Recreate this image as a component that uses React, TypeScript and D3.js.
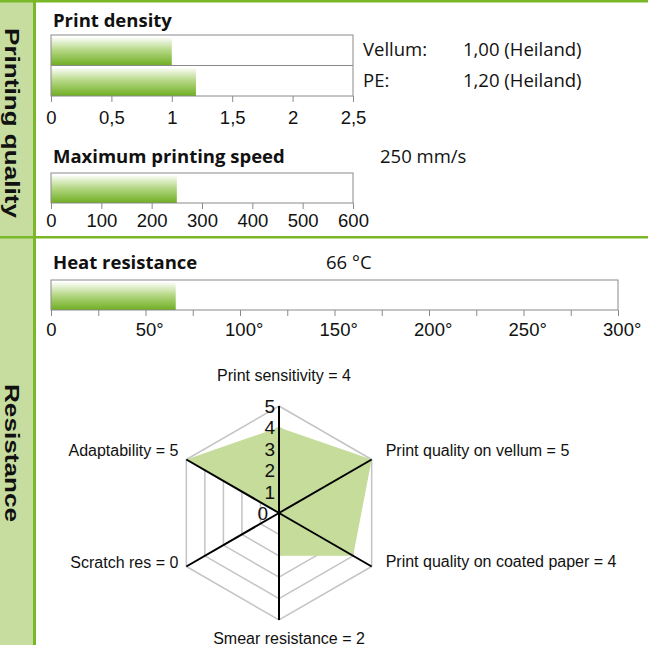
import React, { useEffect, useRef } from "react";
import * as d3 from "d3";

// print density
const densityNames = ["Vellum:", "PE:"];
const densityValues = [1.0, 1.2];
const densityNotes = ["1,00 (Heiland)", "1,20 (Heiland)"];
const densityTicks = [0, 0.5, 1, 1.5, 2, 2.5];

// max printing speed
const speedNames = ["speed"];
const speedValues = [250];
const speedNote = "250 mm/s";
const speedTicks = [0, 100, 200, 300, 400, 500, 600];

// heat resistance
const heatNames = ["heat"];
const heatValues = [66];
const heatNote = "66 °C";
const heatTicks = [0, 25, 50, 75, 100, 125, 150, 175, 200, 225, 250, 275, 300];
const heatLabelTicks = [0, 50, 100, 150, 200, 250, 300];

// radar
const radarAxes = [
  "Print sensitivity",
  "Print quality on vellum",
  "Print quality on coated paper",
  "Smear resistance",
  "Scratch res",
  "Adaptability",
];
const radarValues = [4, 5, 4, 2, 0, 5];
const radarLevels = [0, 1, 2, 3, 4, 5];

const W = 648;
const H = 645;
const GREEN = "#7ab829";
const SIDE = "#c7dd9f";
const GRAY = "#8a8a8a";
const SANS = "'Open Sans', 'Noto Sans', sans-serif";
const ARIAL = "'Liberation Sans', Arial, sans-serif";

const App = () => {
  const ref: any = useRef(null);

  useEffect(() => {
    const svg = d3.select(ref.current);
    svg.selectAll("*").remove();

    const defs = svg.append("defs");
    const grad = defs
      .append("linearGradient")
      .attr("id", "barGrad")
      .attr("x1", 0)
      .attr("y1", 0)
      .attr("x2", 0)
      .attr("y2", 1);
    grad.append("stop").attr("offset", "0%").attr("stop-color", "#fbfdf7");
    grad.append("stop").attr("offset", "45%").attr("stop-color", "#b6d886");
    grad.append("stop").attr("offset", "100%").attr("stop-color", "#6fae22");

    // frame: sidebar + green rules
    svg.append("rect").attr("x", 0).attr("y", 0).attr("width", W).attr("height", H).attr("fill", "#fff");
    svg.append("rect").attr("x", 0).attr("y", 0).attr("width", 33).attr("height", H).attr("fill", SIDE);
    svg.append("rect").attr("x", 33).attr("y", 0).attr("width", 3).attr("height", H).attr("fill", GREEN);
    svg.append("rect").attr("x", 0).attr("y", 0).attr("width", W).attr("height", 2.5).attr("fill", GREEN);
    svg.append("rect").attr("x", 0).attr("y", 236).attr("width", W).attr("height", 2.5).attr("fill", GREEN);

    // sidebar titles (reading downwards)
    const side = (label: string, cy: number, len: number) =>
      svg
        .append("text")
        .attr("transform", `translate(5,${cy}) rotate(90)`)
        .attr("text-anchor", "middle")
        .attr("font-family", ARIAL)
        .attr("font-weight", "bold")
        .attr("font-size", 21)
        .attr("textLength", len)
        .attr("lengthAdjust", "spacingAndGlyphs")
        .attr("fill", "#111")
        .text(label);
    side("Printing quality", 123, 190);
    side("Resistance", 453, 138);

    const title = (label: string, x: number, y: number) =>
      svg
        .append("text")
        .attr("x", x)
        .attr("y", y)
        .attr("font-family", SANS)
        .attr("font-weight", "bold")
        .attr("font-size", 18.5)
        .attr("fill", "#111")
        .text(label);

    const note = (label: string, x: number, y: number) =>
      svg
        .append("text")
        .attr("x", x)
        .attr("y", y)
        .attr("font-family", SANS)
        .attr("font-size", 18.5)
        .attr("fill", "#111")
        .text(label);

    const panel = (o: any) => {
      const x = d3.scaleLinear().domain([0, o.max]).range([51, o.right]);
      const y = d3.scaleBand().domain(o.names).range([o.top, o.bottom]);
      const g = svg.append("g");

      g.selectAll("rect.bar")
        .data(o.values)
        .join("rect")
        .attr("class", "bar")
        .attr("x", x(0))
        .attr("y", (d: any, i: number) => (y(o.names[i]) || 0) + 2.5)
        .attr("width", (d: any) => x(d) - x(0))
        .attr("height", y.bandwidth() - 2.5)
        .attr("fill", "url(#barGrad)");

      g.append("rect")
        .attr("x", x(0))
        .attr("y", o.top)
        .attr("width", x(o.max) - x(0))
        .attr("height", o.bottom - o.top)
        .attr("fill", "none")
        .attr("stroke", GRAY)
        .attr("stroke-width", 1);

      // row dividers
      g.selectAll("line.div")
        .data(o.names.slice(1))
        .join("line")
        .attr("class", "div")
        .attr("x1", x(0))
        .attr("x2", x(o.max))
        .attr("y1", (d: any) => y(d) || 0)
        .attr("y2", (d: any) => y(d) || 0)
        .attr("stroke", GRAY)
        .attr("stroke-width", 1);

      const axis = d3
        .axisBottom(x)
        .tickValues(o.ticks)
        .tickSize(6)
        .tickFormat((d: any) => (o.labelTicks.includes(d) ? o.format(d) : ""));
      const ag = g.append("g").attr("transform", `translate(0,${o.bottom})`).call(axis);
      ag.select(".domain").remove();
      ag.selectAll(".tick line").attr("stroke", GRAY);
      ag.selectAll(".tick text")
        .attr("dy", null)
        .attr("y", o.labelY)
        .attr("font-family", ARIAL)
        .attr("font-size", 18.5)
        .attr("fill", "#111");

      // unit suffix hangs right of the centred number
      if (o.suffix) {
        ag.selectAll(".tick").each(function (this: any, d: any) {
          if (!o.labelTicks.includes(d) || d === 0) return;
          const t = d3.select(this).select("text");
          const len = (t.node() as any).getComputedTextLength();
          d3.select(this)
            .append("text")
            .attr("x", len / 2)
            .attr("y", o.labelY)
            .attr("font-family", ARIAL)
            .attr("font-size", 18.5)
            .attr("fill", "#111")
            .attr("text-anchor", "start")
            .text(o.suffix);
        });
      }
      return y;
    };

    // Print density
    title("Print density", 53, 27);
    const dy = panel({
      names: densityNames,
      values: densityValues,
      max: 2.5,
      right: 353,
      top: 35,
      bottom: 96,
      ticks: densityTicks,
      labelTicks: densityTicks,
      format: (d: number) => String(d).replace(".", ","),
      labelY: 28,
    });
    densityNames.forEach((n, i) => {
      const yy = (dy(n) || 0) + dy.bandwidth() / 2 + 6;
      note(n, 363, yy);
      note(densityNotes[i], 463, yy);
    });

    // Max printing speed
    title("Maximum printing speed", 53, 163);
    note(speedNote, 380, 163);
    panel({
      names: speedNames,
      values: speedValues,
      max: 600,
      right: 353,
      top: 173,
      bottom: 203,
      ticks: speedTicks,
      labelTicks: speedTicks,
      format: (d: number) => String(d),
      labelY: 24,
    });

    // Heat resistance
    title("Heat resistance", 53, 269);
    note(heatNote, 326, 269);
    panel({
      names: heatNames,
      values: heatValues,
      max: 300,
      right: 618,
      top: 280,
      bottom: 310,
      ticks: heatTicks,
      labelTicks: heatLabelTicks,
      format: (d: number) => String(d),
      suffix: "°",
      labelY: 26,
    });

    // Radar
    const cx = 279;
    const cy = 513;
    const r = d3.scaleLinear().domain([0, 5]).range([0, 107]);
    const n = radarAxes.length;
    const pt = (v: number, i: number): [number, number] => {
      const a = (i * 2 * Math.PI) / n;
      return [cx + r(v) * Math.sin(a), cy - r(v) * Math.cos(a)];
    };
    const closed = d3.line().curve(d3.curveLinearClosed);
    const rg = svg.append("g");

    rg.selectAll("path.ring")
      .data(radarLevels.slice(1))
      .join("path")
      .attr("class", "ring")
      .attr("d", (lv: number) => closed(radarAxes.map((_, i) => pt(lv, i))))
      .attr("fill", "none")
      .attr("stroke", "#c4c4c4")
      .attr("stroke-width", 1.5);

    rg.append("path")
      .attr("d", closed(radarValues.map((v, i) => pt(v, i))))
      .attr("fill", "#c5dc9b");

    rg.selectAll("line.axis")
      .data(radarAxes)
      .join("line")
      .attr("class", "axis")
      .attr("x1", cx)
      .attr("y1", cy)
      .attr("x2", (d: any, i: number) => pt(5, i)[0])
      .attr("y2", (d: any, i: number) => pt(5, i)[1])
      .attr("stroke", "#000")
      .attr("stroke-width", 2);

    rg.selectAll("text.lvl")
      .data(radarLevels)
      .join("text")
      .attr("class", "lvl")
      .attr("x", (d: number) => (d === 0 ? cx - 11 : cx - 4))
      .attr("y", (d: number) => cy - r(d) + 7)
      .attr("text-anchor", "end")
      .attr("font-family", ARIAL)
      .attr("font-size", 19)
      .attr("fill", "#111")
      .text((d: number) => d);

    const labelPos = [
      { anchor: "middle", dx: 5, dy: -31 },
      { anchor: "start", dx: 14, dy: -9 },
      { anchor: "start", dx: 14, dy: -5 },
      { anchor: "middle", dx: 10, dy: 18 },
      { anchor: "end", dx: -8, dy: -4 },
      { anchor: "end", dx: -8, dy: -9 },
    ];
    rg.selectAll("text.lab")
      .data(radarAxes)
      .join("text")
      .attr("class", "lab")
      .attr("x", (d: any, i: number) => pt(5, i)[0] + labelPos[i].dx)
      .attr("y", (d: any, i: number) => pt(5, i)[1] + labelPos[i].dy + 5.5)
      .attr("text-anchor", (d: any, i: number) => labelPos[i].anchor)
      .attr("font-family", ARIAL)
      .attr("font-size", 16)
      .attr("fill", "#111")
      .text((d: any, i: number) => `${d} = ${radarValues[i]}`);
  }, []);

  return (
    <svg
      ref={ref}
      width={W}
      height={H}
      viewBox={`0 0 ${W} ${H}`}
      style={{ position: "absolute", left: 0, top: 0, display: "block" }}
    />
  );
};

export default App;
